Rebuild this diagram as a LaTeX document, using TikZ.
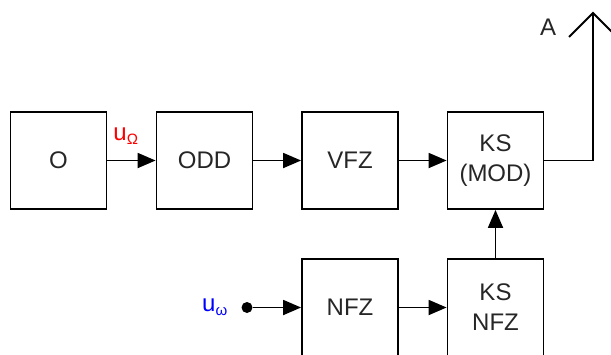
\documentclass[tikz,border=0pt]{standalone}
\usepackage{fontspec}
\setmainfont{Liberation Sans}
\usetikzlibrary{arrows.meta}
\begin{document}
\begin{tikzpicture}[x=1pt,y=-1pt,
  blk/.style={draw,line width=1.8pt,minimum width=96pt,minimum height=97pt,inner sep=0pt,align=center,text=black!85,font=\fontsize{24}{30}\selectfont},
  con/.style={line width=1.8pt},
  arr/.style={con,-{Triangle[length=18pt,width=15pt]}},
  lbl/.style={font=\fontsize{24}{28}\selectfont,inner sep=0pt}]
\useasboundingbox (0,0) rectangle (611,354);
\clip (0,0) rectangle (611,354);
\node[blk] (O) at (58.5,160.5) {O};
\node[blk] (ODD) at (204.5,160.5) {ODD};
\node[blk] (VFZ) at (350,160.5) {VFZ};
\node[blk] (KSM) at (495.5,160.5) {KS\\(MOD)};
\node[blk] (NFZ) at (350,307.5) {NFZ};
\node[blk] (KSN) at (495.5,307.5) {KS\\NFZ};
\node[circle,fill,inner sep=0pt,minimum size=11pt] (src) at (247,307.5) {};
\node[lbl,text=red] (uO) at (126,136) {u\textsubscript{\fontsize{15}{15}\selectfont Ω}};
\node[lbl,text=blue] (uw) at (215,307) {u\textsubscript{\fontsize{15}{15}\selectfont ω}};
\node[lbl,text=black!85] (A) at (548,27) {A};
\coordinate (ant) at (593,160.5);
\coordinate (apex) at (593,13);
\coordinate (vl) at (569,37);
\coordinate (vr) at (617,37);
\draw[arr] (O) -- (ODD);
\draw[arr] (ODD) -- (VFZ);
\draw[arr] (VFZ) -- (KSM);
\draw[arr] (src) -- (NFZ);
\draw[arr] (NFZ) -- (KSN);
\draw[arr] (KSN) -- (KSM);
\draw[con] (KSM.east) -- (ant) -- (apex);
\draw[con] (vl) -- (apex) -- (vr);
\end{tikzpicture}
\end{document}
